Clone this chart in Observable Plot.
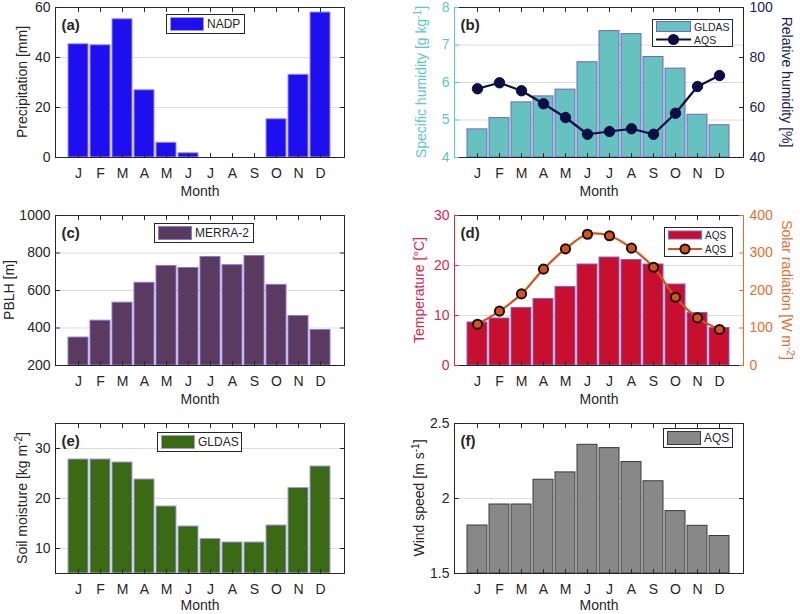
<!DOCTYPE html>
<html>
<head>
<meta charset="utf-8">
<script src="https://cdn.jsdelivr.net/npm/d3@7"></script>
<script src="https://cdn.jsdelivr.net/npm/@observablehq/plot@0.6"></script>
<style>
  html, body { margin: 0; padding: 0; background: #fff; }
  #root { position: relative; width: 800px; height: 614px; overflow: hidden; background: #fff; }
  .panel { position: absolute; }
</style>
</head>
<body>
<div id="root"></div>
<script>
// ---------- data ----------
const monthIdx = [1, 2, 3, 4, 5, 6, 7, 8, 9, 10, 11, 12];
const monthLabels = ["J", "F", "M", "A", "M", "J", "J", "A", "S", "O", "N", "D"];

const precipitation = [45.3, 44.9, 55.3, 26.9, 5.9, 1.7, 0, 0, 0, 15.3, 33.1, 58.0];
const specificHumidity = [4.75, 5.05, 5.47, 5.63, 5.81, 6.54, 7.37, 7.29, 6.68, 6.37, 5.14, 4.86];
const relativeHumidity = [67.5, 69.9, 66.7, 61.5, 56.0, 49.3, 50.4, 51.5, 49.3, 57.7, 68.4, 72.8];
const pblh = [349, 439, 535, 641, 731, 720, 779, 735, 784, 630, 464, 389];
const temperature = [8.6, 9.4, 11.5, 13.3, 15.7, 20.2, 21.6, 21.1, 20.2, 16.2, 10.5, 7.5];
const solarRadiation = [110, 145, 191, 257, 311, 350, 346, 313, 262, 182, 127, 96];
const soilMoisture = [27.8, 27.8, 27.2, 23.8, 18.4, 14.4, 11.9, 11.2, 11.2, 14.6, 22.1, 26.4];
const windSpeed = [1.82, 1.96, 1.96, 2.125, 2.174, 2.358, 2.336, 2.243, 2.115, 1.916, 1.818, 1.75];

const ticksPrecip = [0, 20, 40, 60];
const ticksQ = [4, 5, 6, 7, 8];
const ticksRH = [40, 60, 80, 100];
const ticksPBLH = [200, 400, 600, 800, 1000];
const ticksT = [0, 10, 20, 30];
const ticksSR = [0, 100, 200, 300, 400];
const ticksSM = [10, 20, 30];
const ticksWS = [1.5, 2, 2.5];

// ---------- style ----------
const ink = "#262626";
const font = "'Liberation Sans', Arial, Helvetica, sans-serif";
const W = 400, H = 204, FH = 150;
const tickShape = {draw(ctx, l) { ctx.moveTo(0, 0); ctx.lineTo(0, -l); }};
const tickOpt = {length: 4, anchor: "start", shape: tickShape, strokeWidth: 1};
const fmt = (d) => String(d);

const rows = (vals) => monthIdx.map((m, i) => ({m, v: vals[i]}));

const panels = [
  {id: "a", left: 0, top: 0, mt: 7, ml: 55, mr: 56, monthDy: 34,
   values: precipitation, y: [0, 60], ticks: ticksPrecip, grid: [20, 40],
   fill: "#1d0ff0", stroke: "#9c92f2",
   label: ["Precipitation [mm]"], labelX: 22,
   legend: {left: 166, top: 14, width: 79, height: 20, fs: 12, sw: 34, sh: 13,
            rows: [{type: "bar", fill: "#1d0ff0", stroke: "#9c92f2", text: "NADP"}]}},
  {id: "b", left: 400, top: 0, mt: 7, ml: 54, mr: 57, monthDy: 34,
   values: specificHumidity, y: [4, 8], ticks: ticksQ, grid: [5, 6, 7],
   fill: "#66c2be", stroke: "#7463c8", yColor: "#5cc8c4",
   label: ["Specific humidity [g kg", {sup: "-1"}, "]"], labelX: 21,
   dual: {values: relativeHumidity, y: [40, 100], ticks: ticksRH, color: "#1d1b5c",
          line: "#0d0d45", dotFill: "#0d0d45", dotStroke: "#0d0d45", dotSW: 1, r: 5.2, curve: "linear",
          label: ["Relative humidity [%]"], labelX: 387},
   legend: {left: 652, top: 19, width: 81, height: 28, fs: 10.5, sw: 35, sh: 10,
            rows: [{type: "bar", fill: "#66c2be", stroke: "#7463c8", text: "GLDAS"},
                   {type: "line", stroke: "#0d0d45", fill: "#0d0d45", dotStroke: "#0d0d45", text: "AQS"}]}},
  {id: "c", left: 0, top: 205, mt: 10, ml: 55, mr: 56, monthDy: 34,
   values: pblh, y: [200, 1000], ticks: ticksPBLH, grid: [400, 600, 800],
   fill: "#5a3a5e", stroke: "#8a78d8",
   label: ["PBLH [m]"], labelX: 9,
   legend: {left: 154, top: 223, width: 100, height: 20, fs: 12, sw: 34, sh: 13,
            rows: [{type: "bar", fill: "#5a3a5e", stroke: "#8a78d8", text: "MERRA-2"}]}},
  {id: "d", left: 400, top: 205, mt: 10, ml: 54, mr: 57, monthDy: 34,
   values: temperature, y: [0, 30], ticks: ticksT, grid: [10, 20],
   fill: "#c8102e", stroke: "#7a66d0", yColor: "#d6284b",
   label: ["Temperature [°C]"], labelX: 19,
   dual: {values: solarRadiation, y: [0, 400], ticks: ticksSR, color: "#e07030",
          line: "#d95319", dotFill: "#d95319", dotStroke: "#111", dotSW: 2, r: 4.6, curve: "catmull-rom",
          label: ["Solar radiation [W m", {sup: "-2"}, "]"], labelX: 387},
   legend: {left: 664, top: 227, width: 69, height: 30, fs: 10, sw: 34, sh: 8,
            rows: [{type: "bar", fill: "#c8102e", stroke: "#7a66d0", text: "AQS"},
                   {type: "line", stroke: "#d95319", fill: "#d95319", dotStroke: "#111", text: "AQS"}]}},
  {id: "e", left: 0, top: 410, mt: 13, ml: 55, mr: 56, monthDy: 32,
   values: soilMoisture, y: [5, 35], ticks: ticksSM, grid: [10, 20, 30],
   fill: "#3a6b14", stroke: "#a59ae6",
   label: ["Soil moisture [kg m", {sup: "-2"}, "]"], labelX: 22,
   legend: {left: 157, top: 432, width: 85, height: 20, fs: 12, sw: 34, sh: 13,
            rows: [{type: "bar", fill: "#3a6b14", stroke: "#a59ae6", text: "GLDAS"}]}},
  {id: "f", left: 400, top: 410, mt: 13, ml: 54, mr: 57, monthDy: 32,
   values: windSpeed, y: [1.5, 2.5], ticks: ticksWS, grid: [2],
   fill: "#888888", stroke: "#3a3a3a",
   label: ["Wind speed [m s", {sup: "-1"}, "]"], labelX: 19,
   legend: {left: 663, top: 428, width: 70, height: 20, fs: 12, sw: 34, sh: 13,
            rows: [{type: "bar", fill: "#888888", stroke: "#3a3a3a", text: "AQS"}]}}
];

const root = document.getElementById("root");

function xScale() {
  return {type: "band", domain: monthIdx, paddingInner: 0.08, paddingOuter: 0.54, axis: null};
}

function addLabel(svg, parts, x, y, rotate, color) {
  const t = d3.select(svg).append("text")
    .attr("transform", `translate(${x},${y}) rotate(${rotate})`)
    .attr("text-anchor", "middle")
    .attr("dy", "0.35em")
    .attr("fill", color)
    .attr("font-size", 14)
    .attr("font-family", font);
  let shifted = false;
  for (const p of parts) {
    if (typeof p === "string") {
      const s = t.append("tspan").text(p);
      if (shifted) { s.attr("dy", 5); shifted = false; }
    } else {
      t.append("tspan").attr("dy", -5).attr("font-size", 10).text(p.sup);
      shifted = true;
    }
  }
}

function basePlot(p) {
  const d = rows(p.values);
  const yColor = p.yColor || ink;
  const marks = [
    Plot.gridY({ticks: p.grid, stroke: "#dcdcdc", strokeOpacity: 1}),
    Plot.barY(d, {x: "m", y1: p.y[0], y2: "v", fill: p.fill, stroke: p.stroke, strokeWidth: 1}),
    Plot.frame({anchor: "top", stroke: ink}),
    Plot.frame({anchor: "bottom", stroke: ink}),
    Plot.frame({anchor: "left", stroke: yColor}),
    Plot.vector(monthIdx, {x: (m) => m, y: p.y[0], rotate: 0, ...tickOpt, stroke: ink}),
    Plot.vector(monthIdx, {x: (m) => m, y: p.y[1], rotate: 180, ...tickOpt, stroke: ink}),
    Plot.vector(p.ticks, {y: (v) => v, frameAnchor: "left", rotate: 90, ...tickOpt, stroke: yColor}),
    Plot.axisX({tickSize: 0, tickPadding: 11, tickFormat: (m) => monthLabels[m - 1], fill: ink, label: null}),
    Plot.axisY({ticks: p.ticks, anchor: "left", tickSize: 0, tickPadding: 5, fill: yColor, label: null, tickFormat: fmt}),
    Plot.text(["Month"], {frameAnchor: "bottom", dy: p.monthDy, lineAnchor: "middle", fill: ink, fontSize: 14}),
    Plot.text([`(${p.id})`], {frameAnchor: "top-left", dx: 6, dy: 18, lineAnchor: "middle", textAnchor: "start",
                             fontWeight: "bold", fontSize: 15, fill: ink})
  ];
  if (!p.dual) {
    marks.push(Plot.frame({anchor: "right", stroke: ink}));
    marks.push(Plot.vector(p.ticks, {y: (v) => v, frameAnchor: "right", rotate: -90, ...tickOpt, stroke: ink}));
  }
  const svg = Plot.plot({
    width: W, height: H,
    marginTop: p.mt, marginBottom: H - p.mt - FH, marginLeft: p.ml, marginRight: p.mr,
    style: {fontSize: "14px", fontFamily: font, color: ink, background: "transparent", overflow: "visible"},
    x: xScale(),
    y: {domain: p.y, axis: null},
    marks
  });
  addLabel(svg, p.label, p.labelX, p.mt + FH / 2, -90, yColor);
  return svg;
}

function overlayPlot(p) {
  const q = p.dual;
  const d = rows(q.values);
  const svg = Plot.plot({
    width: W, height: H,
    marginTop: p.mt, marginBottom: H - p.mt - FH, marginLeft: p.ml, marginRight: p.mr,
    style: {fontSize: "14px", fontFamily: font, color: ink, background: "transparent", overflow: "visible"},
    x: xScale(),
    y: {domain: q.y, axis: null},
    marks: [
      Plot.frame({anchor: "right", stroke: q.color}),
      Plot.vector(q.ticks, {y: (v) => v, frameAnchor: "right", rotate: -90, ...tickOpt, stroke: q.color}),
      Plot.axisY({ticks: q.ticks, anchor: "right", tickSize: 0, tickPadding: 6, fill: q.color, label: null, tickFormat: fmt}),
      Plot.line(d, {x: "m", y: "v", stroke: q.line, strokeWidth: 2.2, curve: q.curve}),
      Plot.dot(d, {x: "m", y: "v", r: q.r, fill: q.dotFill, stroke: q.dotStroke, strokeWidth: q.dotSW})
    ]
  });
  addLabel(svg, q.label, q.labelX, p.mt + FH / 2, 90, q.color);
  return svg;
}

function legend(L) {
  const box = document.createElement("div");
  box.style.cssText = `position:absolute;left:${L.left}px;top:${L.top}px;width:${L.width}px;height:${L.height}px;` +
    `box-sizing:border-box;border:1px solid ${ink};background:#fff;font-family:${font};font-size:${L.fs}px;` +
    `color:${ink};display:flex;flex-direction:column;justify-content:center;padding:0 3px;`;
  const rh = (L.height - 2) / L.rows.length;
  for (const r of L.rows) {
    const row = document.createElement("div");
    row.style.cssText = `display:flex;align-items:center;height:${rh}px;white-space:nowrap;`;
    const ns = "http://www.w3.org/2000/svg";
    const s = document.createElementNS(ns, "svg");
    const h = Math.max(rh, 12);
    s.setAttribute("width", L.sw);
    s.setAttribute("height", h);
    s.style.flex = "none";
    s.style.overflow = "visible";
    if (r.type === "bar") {
      const rect = document.createElementNS(ns, "rect");
      rect.setAttribute("x", 0.5); rect.setAttribute("y", (h - L.sh) / 2);
      rect.setAttribute("width", L.sw - 1); rect.setAttribute("height", L.sh);
      rect.setAttribute("fill", r.fill); rect.setAttribute("stroke", r.stroke);
      s.appendChild(rect);
    } else {
      const ln = document.createElementNS(ns, "line");
      ln.setAttribute("x1", 0); ln.setAttribute("x2", L.sw);
      ln.setAttribute("y1", h / 2); ln.setAttribute("y2", h / 2);
      ln.setAttribute("stroke", r.stroke); ln.setAttribute("stroke-width", 2.2);
      s.appendChild(ln);
      const c = document.createElementNS(ns, "circle");
      c.setAttribute("cx", L.sw / 2); c.setAttribute("cy", h / 2); c.setAttribute("r", 4.6);
      c.setAttribute("fill", r.fill); c.setAttribute("stroke", r.dotStroke); c.setAttribute("stroke-width", 2);
      s.appendChild(c);
    }
    row.appendChild(s);
    const t = document.createElement("span");
    t.textContent = r.text;
    t.style.marginLeft = "3px";
    row.appendChild(t);
    box.appendChild(row);
  }
  return box;
}

for (const p of panels) {
  const wrap = document.createElement("div");
  wrap.className = "panel";
  wrap.style.left = p.left + "px";
  wrap.style.top = p.top + "px";
  wrap.style.width = W + "px";
  wrap.style.height = H + "px";
  const base = basePlot(p);
  base.style.position = "absolute";
  base.style.left = "0px"; base.style.top = "0px";
  wrap.appendChild(base);
  if (p.dual) {
    const ov = overlayPlot(p);
    ov.style.position = "absolute";
    ov.style.left = "0px"; ov.style.top = "0px";
    wrap.appendChild(ov);
  }
  root.appendChild(wrap);
}
for (const p of panels) root.appendChild(legend(p.legend));
</script>
</body>
</html>
